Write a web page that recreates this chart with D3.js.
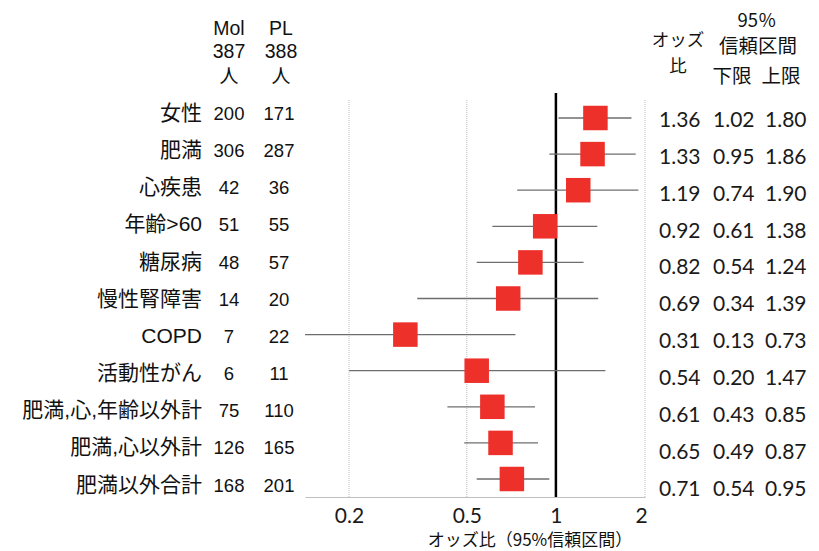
<!DOCTYPE html>
<html>
<head>
<meta charset="utf-8">
<script src="https://cdn.jsdelivr.net/npm/d3@7"></script>
<style>
  html, body { margin: 0; padding: 0; background: #fff; }
  svg { display: block; }
</style>
</head>
<body>
<svg id="chart" width="819" height="551"></svg>
<script>
// ---- data ----
const categories = ["女性", "肥満", "心疾患", "年齢>60", "糖尿病", "慢性腎障害", "COPD", "活動性がん", "肥満,心,年齢以外計", "肥満,心以外計", "肥満以外合計"];
const molN = [200, 306, 42, 51, 48, 14, 7, 6, 75, 126, 168];
const plN = [171, 287, 36, 55, 57, 20, 22, 11, 110, 165, 201];
const oddsRatio = [1.36, 1.33, 1.19, 0.92, 0.82, 0.69, 0.31, 0.54, 0.61, 0.65, 0.71];
const ciLower = [1.02, 0.95, 0.74, 0.61, 0.54, 0.34, 0.13, 0.20, 0.43, 0.49, 0.54];
const ciUpper = [1.80, 1.86, 1.90, 1.38, 1.24, 1.39, 0.73, 1.47, 0.85, 0.87, 0.95];
const xTicks = [0.2, 0.5, 1, 2];
const gridTicks = [0.2, 0.5, 2];

const rows = categories.map((c, i) => ({
  cat: c, mol: molN[i], pl: plN[i], or: oddsRatio[i], lo: ciLower[i], hi: ciUpper[i]
}));

const svg = d3.select("#chart");
svg.append("rect").attr("width", 819).attr("height", 551).attr("fill", "#fff");

const latin = "'Liberation Sans', Arial, 'Noto Sans CJK JP', sans-serif";
const cjk = "'Noto Sans CJK JP', 'Liberation Sans', sans-serif";
const numFont = "Lato, 'Open Sans', sans-serif";

// ---- scales ----
const x = d3.scaleLog().domain([0.142, 2]).range([305, 645]).clamp(true);
const y = d3.scalePoint().domain(categories).range([118, 479]);
const yLeft = d3.scalePoint().domain(categories).range([120, 491.5]);
const yRight = d3.scalePoint().domain(categories).range([127, 495.5]);

const plotTop = 100, plotBottom = 497;

// ---- gridlines ----
svg.append("g").selectAll("line").data(gridTicks).join("line")
  .attr("x1", d => x(d)).attr("x2", d => x(d))
  .attr("y1", plotTop).attr("y2", plotBottom)
  .attr("stroke", "#bcbcbc").attr("stroke-width", 1)
  .attr("stroke-dasharray", "1,1");

// ---- bottom axis ----
const axis = d3.axisBottom(x).tickValues(xTicks).tickSize(0)
  .tickFormat(d => String(d));
const gAxis = svg.append("g").attr("transform", `translate(0,${plotBottom})`).call(axis);
gAxis.select(".domain").attr("stroke", "#bfbfbf").attr("stroke-width", 1);
gAxis.selectAll(".tick text")
  .attr("dy", null).attr("y", 26)
  .attr("font-family", numFont).attr("font-size", 21).attr("fill", "#1a1a1a")
  .attr("dx", d => d === 2 ? -4 : 0);

// ---- reference line at 1 ----
svg.append("line")
  .attr("x1", x(1)).attr("x2", x(1))
  .attr("y1", 93).attr("y2", plotBottom)
  .attr("stroke", "#000").attr("stroke-width", 2.5);

// ---- CI lines ----
svg.append("g").selectAll("line").data(rows).join("line")
  .attr("x1", d => x(d.lo)).attr("x2", d => x(d.hi))
  .attr("y1", d => y(d.cat)).attr("y2", d => y(d.cat))
  .attr("stroke", "#6e6e6e").attr("stroke-width", 1.3);

// ---- markers ----
const ms = 24.5;
svg.append("g").selectAll("rect").data(rows).join("rect")
  .attr("x", d => x(d.or) - ms / 2).attr("y", d => y(d.cat) - ms / 2)
  .attr("width", ms).attr("height", ms)
  .attr("fill", "#ee302b");

// ---- left labels ----
const gl = svg.append("g");
gl.selectAll("text.lab").data(rows).join("text").attr("class", "lab")
  .attr("x", 202).attr("y", d => yLeft(d.cat))
  .attr("text-anchor", "end").attr("font-family", latin).attr("font-size", 21)
  .attr("fill", "#111").text(d => d.cat);
gl.selectAll("text.mol").data(rows).join("text").attr("class", "mol")
  .attr("x", 229).attr("y", d => yLeft(d.cat))
  .attr("text-anchor", "middle").attr("font-family", latin).attr("font-size", 18.5)
  .attr("fill", "#111").text(d => d.mol);
gl.selectAll("text.pl").data(rows).join("text").attr("class", "pl")
  .attr("x", 279).attr("y", d => yLeft(d.cat))
  .attr("text-anchor", "middle").attr("font-family", latin).attr("font-size", 18.5)
  .attr("fill", "#111").text(d => d.pl);

// ---- right numbers ----
const gr = svg.append("g");
[["or", 659], ["lo", 713], ["hi", 765]].forEach(([k, xp]) => {
  gr.selectAll("text." + k).data(rows).join("text").attr("class", k)
    .attr("x", xp).attr("y", d => yRight(d.cat))
    .attr("font-family", numFont).attr("font-size", 21)
    .attr("fill", "#1a1a1a").text(d => d[k].toFixed(2));
});

// ---- headers ----
const hdr = svg.append("g").attr("fill", "#111");
function ht(txt, xp, yp, size, fam) {
  hdr.append("text").attr("x", xp).attr("y", yp).attr("text-anchor", "middle")
    .attr("font-family", fam).attr("font-size", size).text(txt);
}
ht("Mol", 229, 35, 19.5, latin);
ht("387", 229, 58, 19.5, latin);
ht("人", 229, 83, 19, cjk);
ht("PL", 281, 35, 19.5, latin);
ht("388", 281, 58, 19.5, latin);
ht("人", 281, 83, 19, cjk);

ht("オッズ", 678, 46, 17.5, cjk);
ht("比", 678, 72, 17.5, cjk);
ht("95％", 757, 27, 18.5, cjk);
ht("信頼区間", 758, 53, 19.5, cjk);
ht("下限", 732, 83, 19.5, cjk);
ht("上限", 781, 83, 19.5, cjk);

// ---- axis title ----
svg.append("text").attr("x", 530).attr("y", 546).attr("text-anchor", "middle")
  .attr("font-family", cjk).attr("font-size", 17).attr("fill", "#111")
  .text("オッズ比（95%信頼区間）");
</script>
</body>
</html>
